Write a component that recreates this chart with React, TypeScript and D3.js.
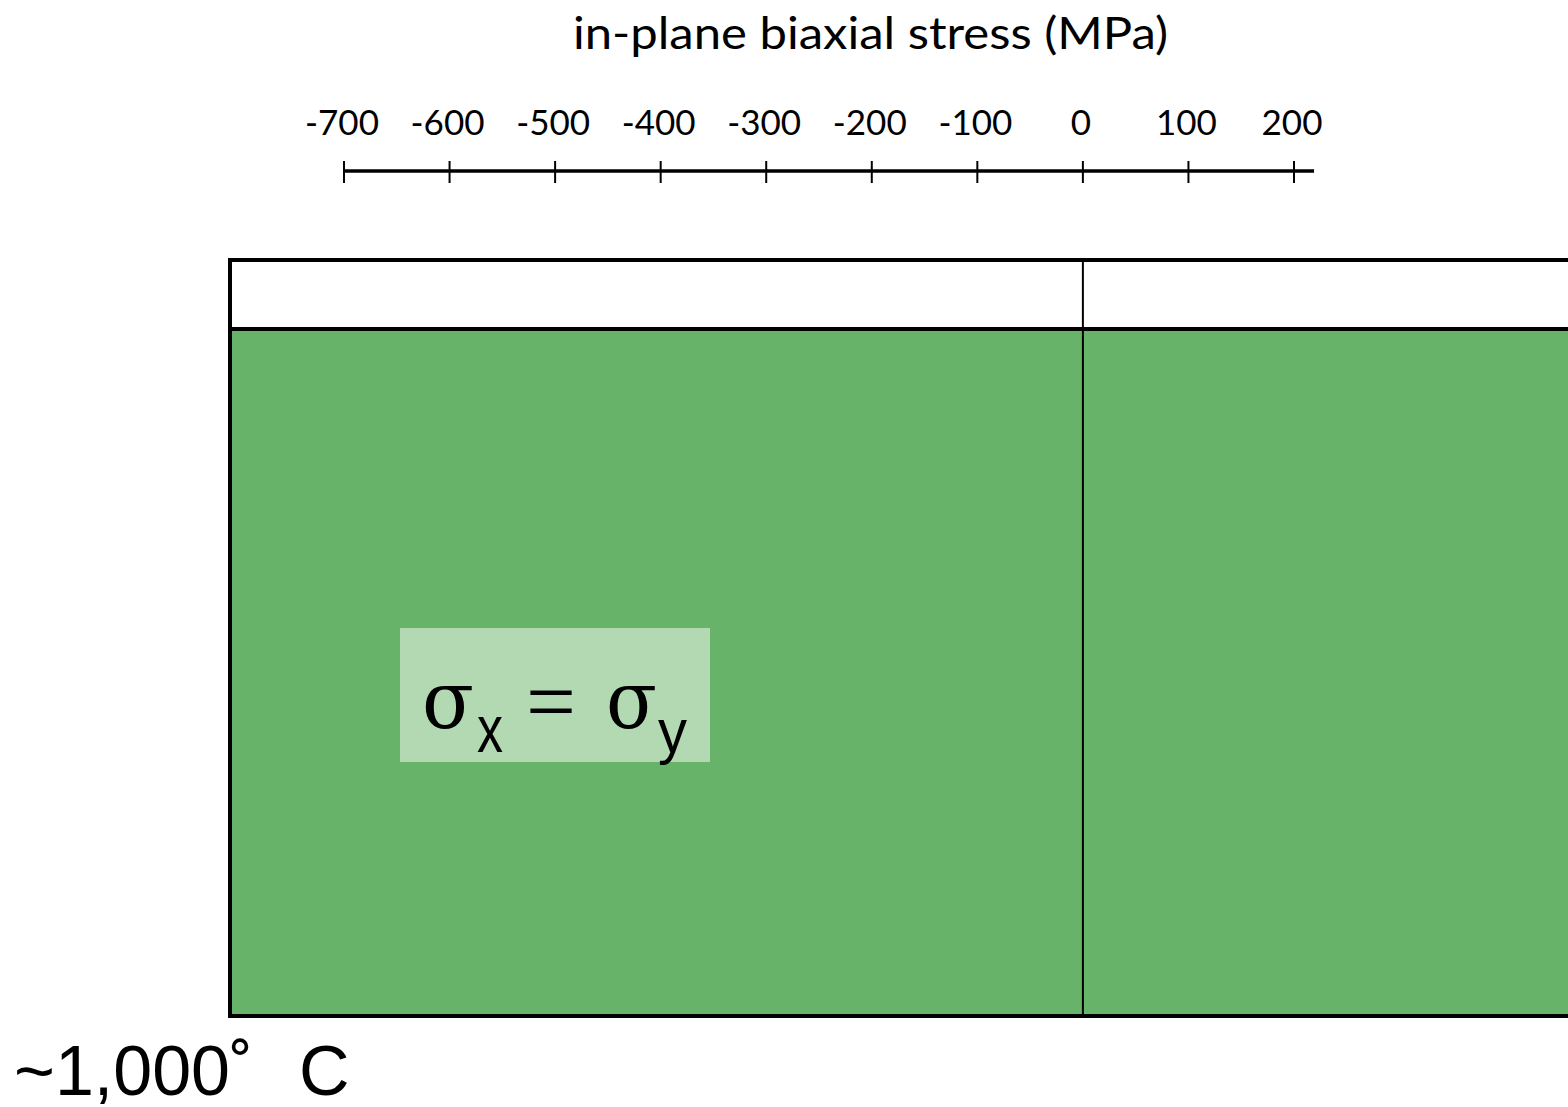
import React from "react";
import * as d3 from "d3";

// Stress axis (MPa)
const tickValues = [-700, -600, -500, -400, -300, -200, -100, 0, 100, 200];
const axisExtent = [-700, 219];
// Regions of the stress map, split at zero stress
const regionBounds = [-808, 0, 520];
const axisTitle = "in-plane biaxial stress (MPa)";
const temperatureValue = "~1,000˚";
const temperatureUnit = "C";

const W = 1568;
const H = 1107;

export default function App() {
  const x = d3.scaleLinear().domain([-700, 200]).range([344, 1294]);

  const axisY = 171;
  const boxTop = 260;
  const headerBottom = 329;
  const boxBottom = 1016;
  const green = "#68b36a";
  const calibri = "Lato, 'Open Sans', sans-serif";
  const serif = "'Liberation Serif', 'DejaVu Serif', serif";
  const symbolSerif = "'DejaVu Serif', 'Liberation Serif', serif";
  const sans = "'Liberation Sans', Arial, sans-serif";

  const regions = d3.pairs(regionBounds);

  return (
    <svg
      width={W}
      height={H}
      style={{ position: "absolute", left: 0, top: 0, background: "#fff" }}
    >
      <text
        x={573}
        y={49}
        fontFamily={calibri}
        fontSize={45}
        textLength={595}
        lengthAdjust="spacingAndGlyphs"
        fill="#000"
      >
        {axisTitle}
      </text>

      {/* axis line and ticks */}
      <line
        x1={x(axisExtent[0])}
        x2={x(axisExtent[1])}
        y1={axisY}
        y2={axisY}
        stroke="#000"
        strokeWidth={3.5}
      />
      {tickValues.map((v) => (
        <g key={v}>
          <line
            x1={x(v)}
            x2={x(v)}
            y1={axisY - 10}
            y2={axisY + 12}
            stroke="#000"
            strokeWidth={2}
          />
          <text
            x={x(v) - 2}
            y={135}
            textAnchor="middle"
            fontFamily={calibri}
            fontSize={35}
            fill="#000"
          >
            {v}
          </text>
        </g>
      ))}

      {/* stress map regions */}
      {regions.map(([a, b], i) => (
        <g key={i}>
          <rect
            x={x(a)}
            y={boxTop}
            width={x(b) - x(a)}
            height={headerBottom - boxTop}
            fill="#fff"
          />
          <rect
            x={x(a)}
            y={headerBottom}
            width={x(b) - x(a)}
            height={boxBottom - headerBottom}
            fill={green}
          />
        </g>
      ))}
      <rect
        x={x(regionBounds[0])}
        y={boxTop}
        width={x(regionBounds[regionBounds.length - 1]) - x(regionBounds[0])}
        height={boxBottom - boxTop}
        fill="none"
        stroke="#000"
        strokeWidth={4}
      />
      <line
        x1={x(regionBounds[0])}
        x2={x(regionBounds[regionBounds.length - 1])}
        y1={headerBottom}
        y2={headerBottom}
        stroke="#000"
        strokeWidth={4}
      />
      {regionBounds.slice(1, -1).map((v) => (
        <line
          key={v}
          x1={x(v)}
          x2={x(v)}
          y1={boxTop}
          y2={boxBottom}
          stroke="#000"
          strokeWidth={2}
        />
      ))}

      {/* stress state label */}
      <rect x={400} y={628} width={310} height={134} fill="#b3d9b3" />
      <g fill="#000">
        <text
          x={422}
          y={728}
          fontFamily={symbolSerif}
          fontSize={80}
          textLength={52}
          lengthAdjust="spacingAndGlyphs"
        >
          σ
        </text>
        <text
          x={477}
          y={752}
          fontFamily={sans}
          fontSize={66}
          textLength={26}
          lengthAdjust="spacingAndGlyphs"
        >
          x
        </text>
        <text
          x={526}
          y={731}
          fontFamily={serif}
          fontSize={88}
          textLength={50}
          lengthAdjust="spacingAndGlyphs"
        >
          =
        </text>
        <text
          x={606}
          y={728}
          fontFamily={symbolSerif}
          fontSize={80}
          textLength={51}
          lengthAdjust="spacingAndGlyphs"
        >
          σ
        </text>
        <text
          x={658}
          y={752}
          fontFamily={sans}
          fontSize={62}
          textLength={29}
          lengthAdjust="spacingAndGlyphs"
        >
          y
        </text>
      </g>

      <text x={14} y={1095} fontFamily={sans} fontSize={70} fill="#000">
        <tspan>{temperatureValue}</tspan>
        <tspan x={299}>{temperatureUnit}</tspan>
      </text>
    </svg>
  );
}
